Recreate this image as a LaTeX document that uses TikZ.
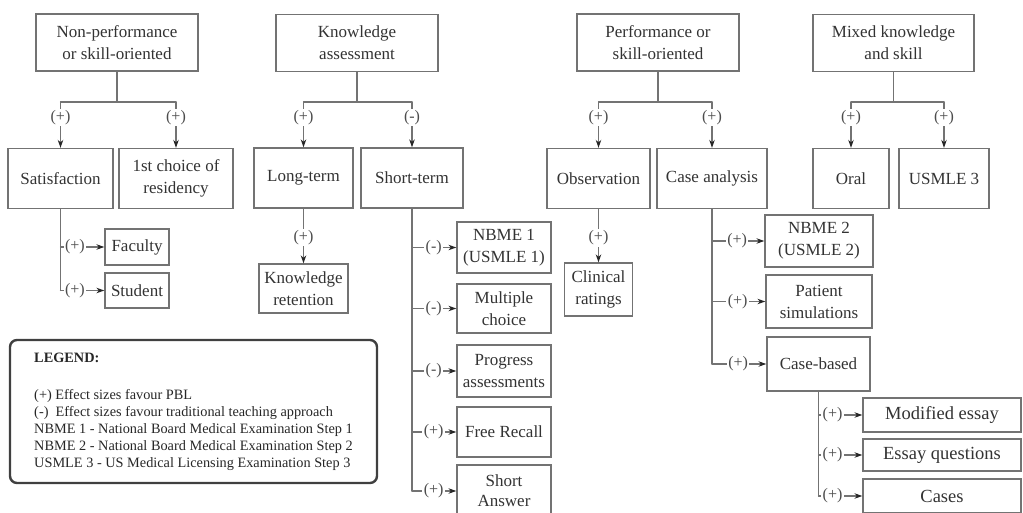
\documentclass[tikz,border=0pt]{standalone}
\usepackage{fontspec}
\setmainfont{Liberation Serif}
\usetikzlibrary{arrows.meta}

\begin{document}
\begin{tikzpicture}[x=1pt,y=-1pt,line cap=round,
  >={Stealth[length=8pt,width=5.5pt,color=black!85]},
  box/.style={draw=black!55,line width=1.3pt,fill=white,text=black!80,align=center,inner sep=1pt,font=\fontsize{17}{22}\selectfont},
  sign/.style={fill=white,inner sep=1.5pt,text=black!70,font=\fontsize{16}{18}\selectfont},
  link/.style={draw=black!55,line width=1.1pt},
  legend/.style={draw=black!75,line width=2.4pt,rounded corners=7pt,align=left,text=black!85,font=\fontsize{14.3}{17}\selectfont}]
\path[use as bounding box,clip] (0,0) rectangle (1023,513);
% top row
\node[box,minimum width=162,minimum height=57] (np) at (117,42.5) {Non-performance\\or skill-oriented};
\node[box,minimum width=162,minimum height=57] (ka) at (357,43) {Knowledge\\assessment};
\node[box,minimum width=162,minimum height=57] (ps) at (658,42.5) {Performance or\\skill-oriented};
\node[box,minimum width=161,minimum height=57] (mk) at (893.5,43) {Mixed knowledge\\and skill};
\coordinate (npbar) at (117,102);
\coordinate (kabar) at (357,102);
\coordinate (psbar) at (658,102);
\coordinate (mkbar) at (893.5,102);
% second row
\node[box,minimum width=105,minimum height=60] (sat) at (60.5,178.5) {Satisfaction};
\node[box,minimum width=114,minimum height=60] (res) at (176,178.5) {1st choice of\\residency};
\node[box,minimum width=99,minimum height=60] (lt) at (303.5,178) {Long-term};
\node[box,minimum width=102,minimum height=60] (st) at (412,178) {Short-term};
\node[box,minimum width=103,minimum height=60] (obs) at (598.5,178.5) {Observation};
\node[box,minimum width=110,minimum height=60] (ca) at (712,178.5) {Case analysis};
\node[box,minimum width=76,minimum height=60] (oral) at (851,178.5) {Oral};
\node[box,minimum width=90,minimum height=60] (us3) at (944,178.5) {USMLE 3};
% lower boxes
\node[box,minimum width=64,minimum height=36] (fac) at (137,247) {Faculty};
\node[box,minimum width=64,minimum height=35] (stu) at (137,290.5) {Student};
\node[box,minimum width=89,minimum height=49] (kr) at (303.5,288.5) {Knowledge\\retention};
\node[box,minimum width=94,minimum height=51] (nb1) at (504,247.5) {NBME 1\\(USMLE 1)};
\node[box,minimum width=94,minimum height=49] (mc) at (504,308.5) {Multiple\\choice};
\node[box,minimum width=94,minimum height=52] (pa) at (504,371) {Progress\\assessments};
\node[box,minimum width=94,minimum height=50] (fr) at (504,432) {Free Recall};
\node[box,minimum width=94,minimum height=52,font=\fontsize{17}{20}\selectfont] (sa) at (504,491) {Short\\Answer};
\node[box,minimum width=68,minimum height=53] (cr) at (598.5,289.5) {Clinical\\ratings};
\node[box,minimum width=108,minimum height=52] (nb2) at (819,241) {NBME 2\\(USMLE 2)};
\node[box,minimum width=106,minimum height=53] (psim) at (819,301.5) {Patient\\simulations};
\node[box,minimum width=103,minimum height=54] (cb) at (818.5,364) {Case-based};
\node[box,minimum width=158,minimum height=34,font=\fontsize{18.5}{22}\selectfont] (me) at (942,415) {Modified essay};
\node[box,minimum width=158,minimum height=32,font=\fontsize{18.5}{22}\selectfont] (eq) at (942,455) {Essay questions};
\node[box,minimum width=158,minimum height=34,font=\fontsize{18.5}{22}\selectfont] (cs) at (942,496) {Cases};
% legend
\node[legend,minimum width=367,minimum height=143] (leg) at (193.5,411.5) {\textbf{LEGEND:}\\[20pt]
(+) Effect sizes favour PBL\\
(-)\ \ Effect sizes favour traditional teaching approach\\
NBME 1 - National Board Medical Examination Step 1\\
NBME 2 - National Board Medical Examination Step 2\\
USMLE 3 - US Medical Licensing Examination Step 3};
% branches from the top row
\draw[link] (np.south) -- (npbar);
\draw[link] (sat.north |- npbar) -- (res.north |- npbar);
\draw[link,->] (sat.north |- npbar) -- node[sign,pos=.34]{(+)} (sat.north);
\draw[link,->] (res.north |- npbar) -- node[sign,pos=.34]{(+)} (res.north);
\draw[link] (ka.south) -- (kabar);
\draw[link] (lt.north |- kabar) -- (st.north |- kabar);
\draw[link,->] (lt.north |- kabar) -- node[sign,pos=.34]{(+)} (lt.north);
\draw[link,->] (st.north |- kabar) -- node[sign,pos=.34]{(-)} (st.north);
\draw[link] (ps.south) -- (psbar);
\draw[link] (obs.north |- psbar) -- (ca.north |- psbar);
\draw[link,->] (obs.north |- psbar) -- node[sign,pos=.34]{(+)} (obs.north);
\draw[link,->] (ca.north |- psbar) -- node[sign,pos=.34]{(+)} (ca.north);
\draw[link] (mk.south) -- (mkbar);
\draw[link] (oral.north |- mkbar) -- (us3.north |- mkbar);
\draw[link,->] (oral.north |- mkbar) -- node[sign,pos=.34]{(+)} (oral.north);
\draw[link,->] (us3.north |- mkbar) -- node[sign,pos=.34]{(+)} (us3.north);
% satisfaction
\draw[link] (sat.south) -- (sat.south |- stu);
\draw[link,->] (sat.south |- fac) -- node[sign,pos=.33]{(+)} (fac.west);
\draw[link,->] (sat.south |- stu) -- node[sign,pos=.33]{(+)} (stu.west);
% long-term and observation
\draw[link,->] (lt.south) -- node[sign,pos=.53]{(+)} (kr.north);
\draw[link,->] (obs.south) -- node[sign,pos=.54]{(+)} (cr.north);
% short-term
\draw[link] (st.south) -- (st.south |- sa);
\draw[link,->] (st.south |- nb1) -- node[sign,pos=.49]{(-)} (nb1.west);
\draw[link,->] (st.south |- mc) -- node[sign,pos=.49]{(-)} (mc.west);
\draw[link,->] (st.south |- pa) -- node[sign,pos=.49]{(-)} (pa.west);
\draw[link,->] (st.south |- fr) -- node[sign,pos=.49]{(+)} (fr.west);
\draw[link,->] (st.south |- sa) -- node[sign,pos=.49]{(+)} (sa.west);
% case analysis
\draw[link] (ca.south) -- (ca.south |- cb);
\draw[link,->] (ca.south |- nb2) -- node[sign,pos=.48]{(+)} (nb2.west);
\draw[link,->] (ca.south |- psim) -- node[sign,pos=.48]{(+)} (psim.west);
\draw[link,->] (ca.south |- cb) -- node[sign,pos=.48]{(+)} (cb.west);
% case-based
\draw[link] (cb.south) -- (cb.south |- cs);
\draw[link,->] (cb.south |- me) -- node[sign,pos=.32]{(+)} (me.west);
\draw[link,->] (cb.south |- eq) -- node[sign,pos=.32]{(+)} (eq.west);
\draw[link,->] (cb.south |- cs) -- node[sign,pos=.32]{(+)} (cs.west);
\end{tikzpicture}
\end{document}
